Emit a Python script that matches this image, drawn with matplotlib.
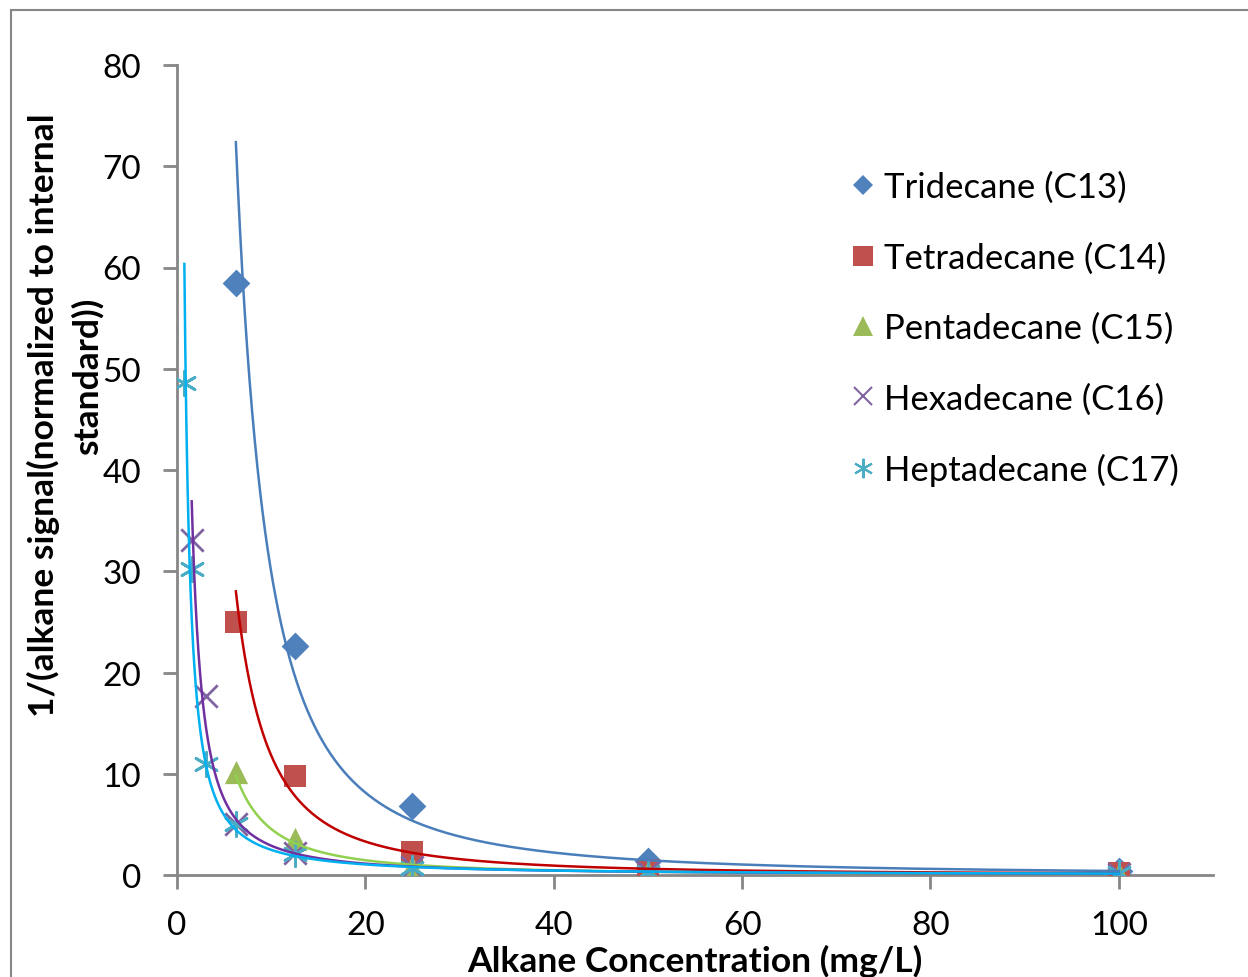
import numpy as np
import matplotlib
matplotlib.use("Agg")
import matplotlib.pyplot as plt
from matplotlib.patches import Rectangle

plt.rcParams['font.family'] = ['Lato', 'DejaVu Sans']

# ---- data ----
names = ["Tridecane (C13)", "Tetradecane (C14)", "Pentadecane (C15)",
         "Hexadecane (C16)", "Heptadecane (C17)"]
x_c13 = [6.25, 12.5, 25, 50, 100]
y_c13 = [58.5, 22.6, 6.8, 1.4, 0.35]
x_c14 = [6.25, 12.5, 25, 50, 100]
y_c14 = [25.0, 9.8, 2.3, 0.45, 0.2]
x_c15 = [6.25, 12.5, 25, 50, 100]
y_c15 = [10.2, 3.6, 0.8, 0.3, 0.12]
x_c16 = [1.5625, 3.125, 6.25, 12.5, 25, 50, 100]
y_c16 = [33.1, 17.7, 5.0, 2.2, 0.8, 0.3, 0.13]
x_c17 = [0.78125, 1.5625, 3.125, 6.25, 12.5, 25, 50, 100]
y_c17 = [48.6, 30.2, 11.0, 5.0, 2.1, 0.65, 0.3, 0.15]

xs = [x_c13, x_c14, x_c15, x_c16, x_c17]
ys = [y_c13, y_c14, y_c15, y_c16, y_c17]
xticks = [0, 20, 40, 60, 80, 100]
yticks = [0, 10, 20, 30, 40, 50, 60, 70, 80]
xlabel = "Alkane Concentration (mg/L)"
ylabel_lines = ["1/(alkane signal(normalized to internal", "standard))"]

marker_colors = ["#4F81BD", "#C0504D", "#9BBB59", "#8064A2", "#4BACC6"]
line_colors = ["#4A7EBB", "#C00000", "#92D050", "#7030A0", "#00B0F0"]
markers = ["D", "s", "^", "x", "*"]

fig = plt.figure(figsize=(12.48, 9.78), dpi=100)
# outer chart border
fig.patches.append(Rectangle((11/1248, -0.1), 1.2, 1.1 - 11/978,
                             transform=fig.transFigure, fill=False,
                             edgecolor="#868686", linewidth=1.5, zorder=0))

ax = fig.add_axes([177/1248, 1 - 876/978, (1213-177)/1248, (876-66)/978])

for i in range(5):
    x = np.array(xs[i]); y = np.array(ys[i])
    m = markers[i]
    if m == "D":
        ax.scatter(x, y, marker="D", s=200, color=marker_colors[i], zorder=3, linewidths=0)
    elif m == "s":
        ax.scatter(x, y, marker="s", s=230, color=marker_colors[i], zorder=3, linewidths=0)
    elif m == "^":
        ax.scatter(x, y, marker="^", s=280, color=marker_colors[i], zorder=3, linewidths=0)
    elif m == "x":
        ax.scatter(x, y, marker="x", s=260, color=marker_colors[i], zorder=3, linewidths=2)
    else:
        ax.scatter(x, y, marker=(6, 2, 0), s=300, color=marker_colors[i], zorder=3, linewidths=2)

# power-law trendlines (fit in log-log space)
for i in range(5):
    x = np.array(xs[i]); y = np.array(ys[i])
    b, lna = np.polyfit(np.log(x), np.log(y), 1)
    xf = np.geomspace(x.min(), x.max(), 400)
    ax.plot(xf, np.exp(lna) * xf ** b, color=line_colors[i], lw=1.8, zorder=4)

ax.set_xlim(0, 110)
ax.set_ylim(0, 80)
ax.set_xticks(xticks)
ax.set_yticks(yticks)
for s in ["top", "right"]:
    ax.spines[s].set_visible(False)
for s in ["left", "bottom"]:
    ax.spines[s].set_color("#868686")
    ax.spines[s].set_linewidth(2)
ax.tick_params(axis="both", colors="#868686", length=10, width=2, labelcolor="black",
               labelsize=24, direction="out")
ax.tick_params(axis="x", pad=15)
ax.tick_params(axis="y", pad=16)

ax.set_xlabel(xlabel, fontsize=25.5, fontweight="bold", labelpad=3)

# two-line y-axis title, drawn as two rotated lines
fig.text(43/1248, 1 - 415/978, ylabel_lines[0], rotation=90, ha="center", va="center",
         fontsize=25.5, fontweight="bold")
fig.text(87/1248, 1 - 376/978, ylabel_lines[1], rotation=90, ha="center", va="center",
         fontsize=25.5, fontweight="bold")

# legend markers
leg_handles = []
for i in range(5):
    m = markers[i]
    kw = dict(linestyle="none", color=marker_colors[i])
    if m == "D":
        hh, = ax.plot([], [], marker="D", ms=10, mew=0, **kw)
    elif m == "s":
        hh, = ax.plot([], [], marker="s", ms=14, mew=0, **kw)
    elif m == "^":
        hh, = ax.plot([], [], marker="^", ms=14, mew=0, **kw)
    elif m == "x":
        hh, = ax.plot([], [], marker="x", ms=13, mew=1.5, **kw)
    else:
        hh, = ax.plot([], [], marker=(6, 2, 0), ms=14, mew=1.5, **kw)
    leg_handles.append(hh)

leg = fig.legend(leg_handles, names, loc="upper left",
                 bbox_to_anchor=(846/1248, 1 - 172/978), frameon=False,
                 fontsize=25, labelspacing=1.1, handlelength=1.0,
                 handletextpad=0.1, borderpad=0, borderaxespad=0)

fig.savefig("out.png", dpi=100)
